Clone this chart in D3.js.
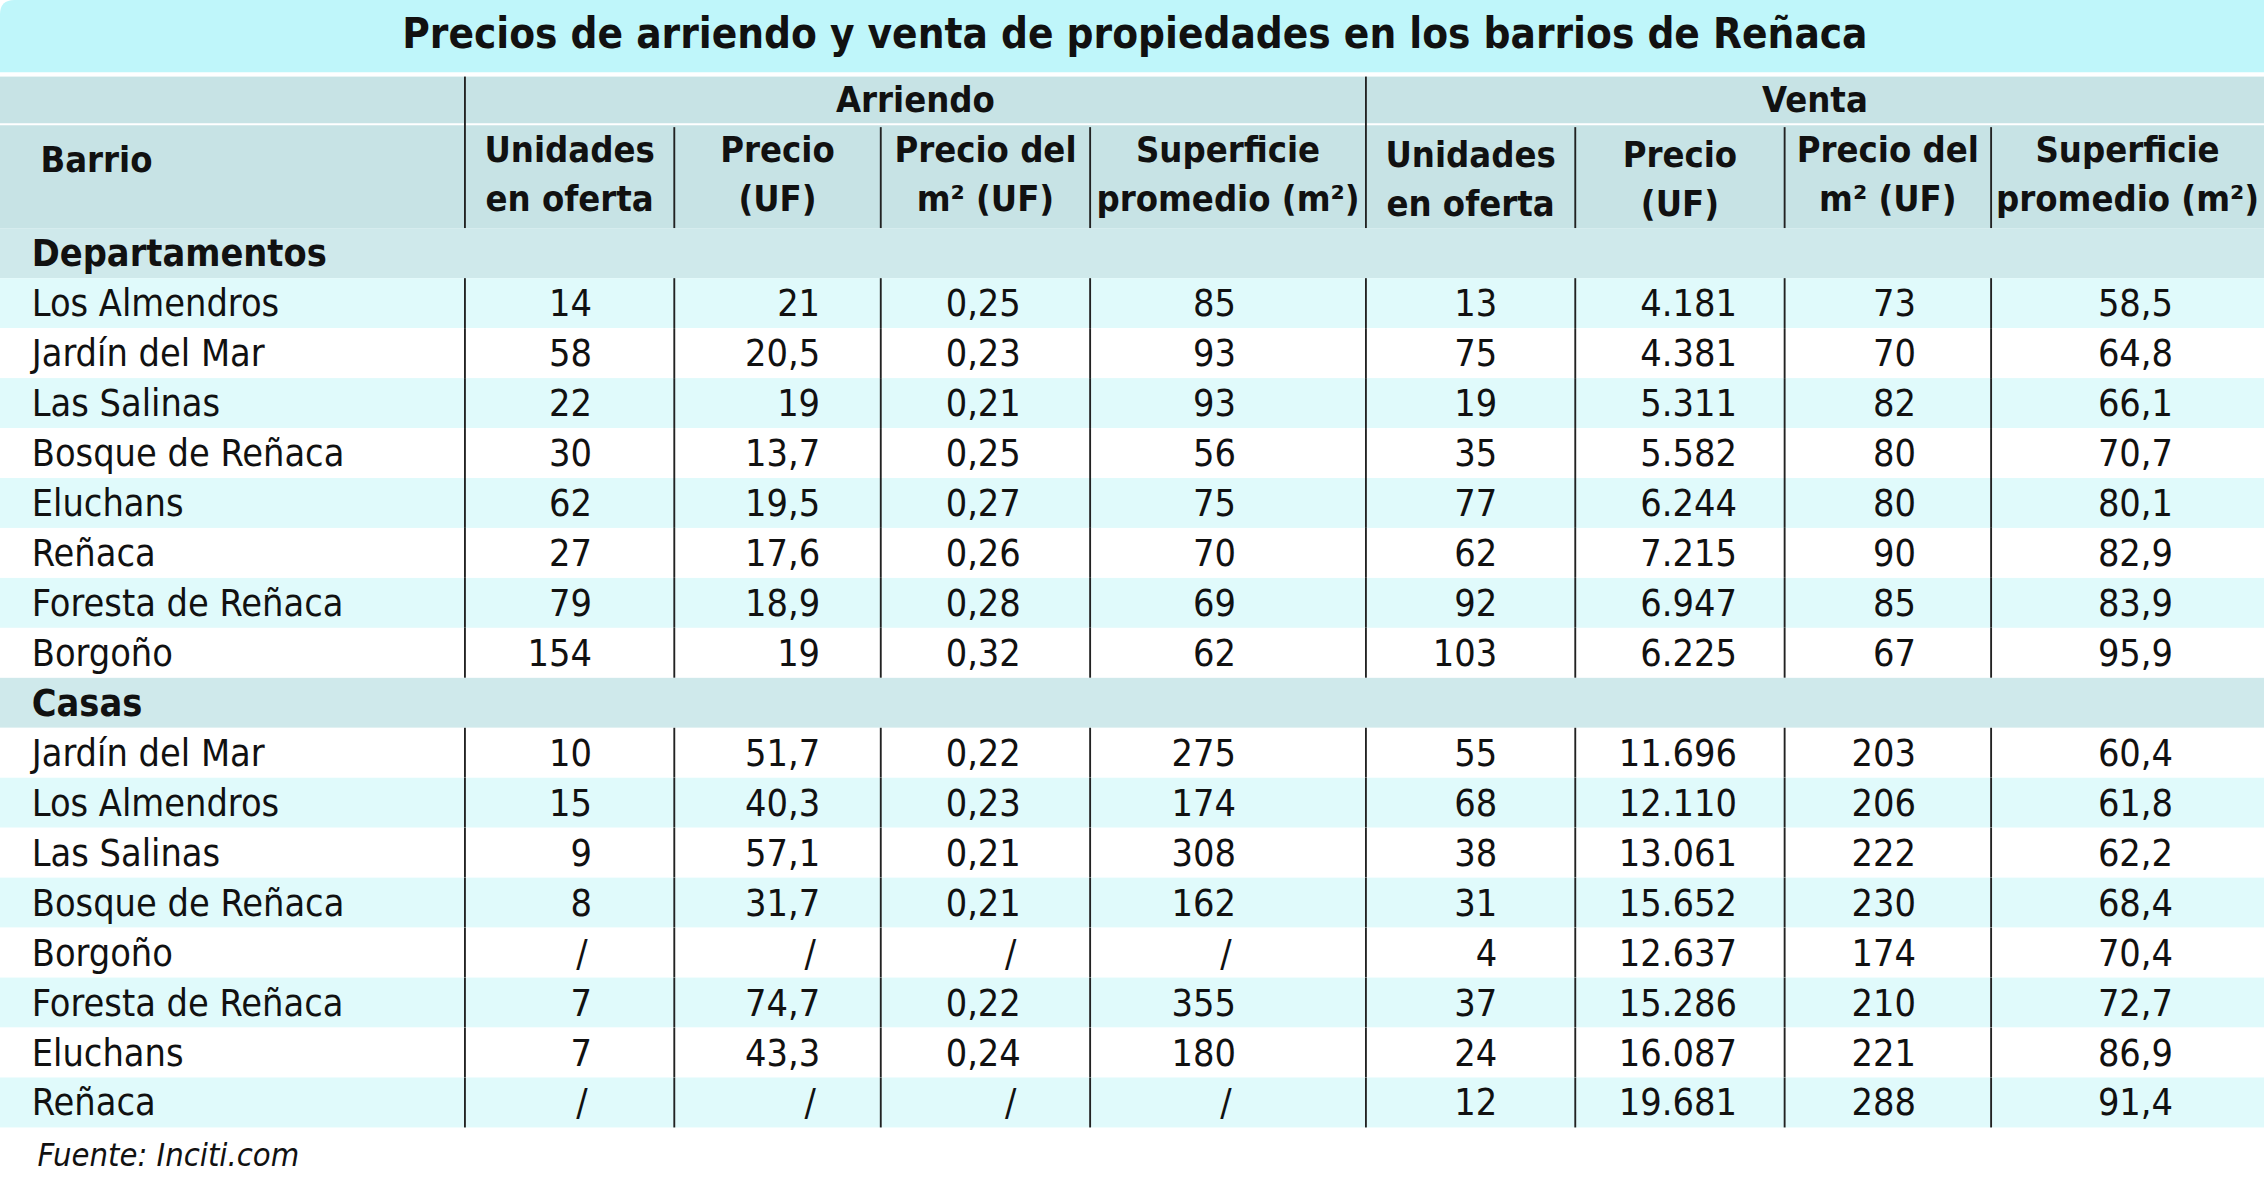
<!DOCTYPE html>
<html>
<head>
<meta charset="utf-8">
<script src="https://cdn.jsdelivr.net/npm/d3@7"></script>
<style>
  html, body { margin: 0; padding: 0; background: #ffffff; }
  svg { display: block; }
  text { font-family: "Liberation Sans Narrow", "DejaVu Sans Condensed", sans-serif; fill: #111; }
</style>
</head>
<body>
<script>
// table data
var title = "Precios de arriendo y venta de propiedades en los barrios de Reñaca";
var source = "Fuente: Inciti.com";
var groups = ["Arriendo", "Venta"];
var subHeaders = [["Unidades", "en oferta"], ["Precio", "(UF)"], ["Precio del", "m² (UF)"], ["Superficie", "promedio (m²)"]];
var sections = ["Departamentos", "Casas"];

var deptNames = ["Los Almendros", "Jardín del Mar", "Las Salinas", "Bosque de Reñaca", "Eluchans", "Reñaca", "Foresta de Reñaca", "Borgoño"];
var deptArrUnidades = [14, 58, 22, 30, 62, 27, 79, 154];
var deptArrPrecio = [21, 20.5, 19, 13.7, 19.5, 17.6, 18.9, 19];
var deptArrM2 = [0.25, 0.23, 0.21, 0.25, 0.27, 0.26, 0.28, 0.32];
var deptArrSup = [85, 93, 93, 56, 75, 70, 69, 62];
var deptVenUnidades = [13, 75, 19, 35, 77, 62, 92, 103];
var deptVenPrecio = [4181, 4381, 5311, 5582, 6244, 7215, 6947, 6225];
var deptVenM2 = [73, 70, 82, 80, 80, 90, 85, 67];
var deptVenSup = [58.5, 64.8, 66.1, 70.7, 80.1, 82.9, 83.9, 95.9];

var casasNames = ["Jardín del Mar", "Los Almendros", "Las Salinas", "Bosque de Reñaca", "Borgoño", "Foresta de Reñaca", "Eluchans", "Reñaca"];
var casasArrUnidades = [10, 15, 9, 8, null, 7, 7, null];
var casasArrPrecio = [51.7, 40.3, 57.1, 31.7, null, 74.7, 43.3, null];
var casasArrM2 = [0.22, 0.23, 0.21, 0.21, null, 0.22, 0.24, null];
var casasArrSup = [275, 174, 308, 162, null, 355, 180, null];
var casasVenUnidades = [55, 68, 38, 31, 4, 37, 24, 12];
var casasVenPrecio = [11696, 12110, 13061, 15652, 12637, 15286, 16087, 19681];
var casasVenM2 = [203, 206, 222, 230, 174, 210, 221, 288];
var casasVenSup = [60.4, 61.8, 62.2, 68.4, 70.4, 72.7, 86.9, 91.4];

// layout is drawn in a 1568 x 831 box and scaled up to the window
var svgWidth = 2264;
var svgHeight = 1200;
var vbWidth = 1568;
var vbHeight = 831;

var es = d3.formatLocale({ decimal: ",", thousands: ".", grouping: [3], currency: ["$", ""] });
var fmtThousands = es.format(",d");
function fmtDec(v) { return String(v).replace(".", ","); }

// column edges and where each cell's text ends
var colEdges = [0, 322, 467, 610, 755, 946, 1091, 1236, 1379, 1568];
var arrAnchor = [410, 568, 707, 856];
var venAnchor = [1037, 1203, 1327, 1505];

var titleH = 50;
var headTop = 53;
var headBottom = 158;
var groupLine = 86;

var svg = d3.select("body")
  .append("svg")
  .attr("width", svgWidth)
  .attr("height", svgHeight)
  .attr("viewBox", `0 0 ${vbWidth} ${vbHeight}`);

// build the rows: section label, then its barrios
// (stripes: first dept row is tinted, first casas row is white)
var rows = [];
function addSection(label, names, cols, stripe) {
  rows.push({ type: "section", label: label });
  names.forEach(function(n, i) {
    rows.push({ type: "data", label: n, cells: cols.map(c => c[i]), tinted: (i + stripe) % 2 === 0 });
  });
}
addSection(sections[0], deptNames,
  [deptArrUnidades, deptArrPrecio, deptArrM2, deptArrSup, deptVenUnidades, deptVenPrecio, deptVenM2, deptVenSup], 0);
addSection(sections[1], casasNames,
  [casasArrUnidades, casasArrPrecio, casasArrM2, casasArrSup, casasVenUnidades, casasVenPrecio, casasVenM2, casasVenSup], 1);

var yScale = d3.scaleBand()
  .domain(d3.range(rows.length))
  .range([headBottom, headBottom + 34.6 * rows.length]);

// title band
svg.append("path")
  .attr("d", `M0,${titleH} L0,10 Q0,0 10,0 L${vbWidth},0 L${vbWidth},${titleH} Z`)
  .attr("fill", "#bff6fa");

svg.append("text")
  .attr("x", 786)
  .attr("y", 33)
  .attr("text-anchor", "middle")
  .attr("font-size", 29)
  .attr("font-weight", "bold")
  .text(title);

// header band
svg.append("rect")
  .attr("x", 0).attr("y", headTop)
  .attr("width", vbWidth).attr("height", headBottom - headTop)
  .attr("fill", "#c7e3e5");

svg.append("line")
  .attr("x1", 0).attr("x2", vbWidth)
  .attr("y1", groupLine).attr("y2", groupLine)
  .attr("stroke", "#ffffff").attr("stroke-width", 1.5);

svg.append("text")
  .attr("x", 28).attr("y", 111)
  .attr("dominant-baseline", "central")
  .attr("font-size", 25).attr("font-weight", "bold")
  .text("Barrio");

groups.forEach(function(g, gi) {
  var x0 = colEdges[1 + gi * 4], x1 = colEdges[5 + gi * 4];
  svg.append("text")
    .attr("x", (x0 + x1) / 2).attr("y", 69)
    .attr("dominant-baseline", "central")
    .attr("text-anchor", "middle")
    .attr("font-size", 25).attr("font-weight", "bold")
    .text(g);

  subHeaders.forEach(function(lines, si) {
    var a = colEdges[1 + gi * 4 + si], b = colEdges[2 + gi * 4 + si];
    var dy = gi === 1 && si < 2 ? 3 : 0;
    lines.forEach(function(l, li) {
      svg.append("text")
        .attr("x", (a + b) / 2).attr("y", 104 + dy + li * 34)
        .attr("dominant-baseline", "central")
        .attr("text-anchor", "middle")
        .attr("font-size", 25).attr("font-weight", "bold")
        .text(l);
    });
  });
});

// header separators
[1, 5].forEach(function(c) {
  svg.append("line")
    .attr("x1", colEdges[c]).attr("x2", colEdges[c])
    .attr("y1", headTop).attr("y2", headBottom)
    .attr("stroke", "#222").attr("stroke-width", 1.3);
});
[2, 3, 4, 6, 7, 8].forEach(function(c) {
  svg.append("line")
    .attr("x1", colEdges[c]).attr("x2", colEdges[c])
    .attr("y1", groupLine + 2).attr("y2", headBottom)
    .attr("stroke", "#222").attr("stroke-width", 1.3);
});

// body rows
var rowG = svg.selectAll("g.row")
  .data(rows)
  .enter()
  .append("g")
  .attr("class", "row")
  .attr("transform", (d, i) => `translate(0, ${yScale(i)})`);

rowG.append("rect")
  .attr("width", vbWidth)
  .attr("height", yScale.bandwidth())
  .attr("fill", d => d.type === "section" ? "#cfe9eb" : (d.tinted ? "#e0fafb" : "#ffffff"));

rowG.append("text")
  .attr("x", 22)
  .attr("y", yScale.bandwidth() / 2)
  .attr("dominant-baseline", "central")
  .attr("font-size", 26)
  .attr("font-weight", d => d.type === "section" ? "bold" : "normal")
  .text(d => d.label);

var dataRows = rowG.filter(d => d.type === "data");

dataRows.selectAll("text.cell")
  .data(d => d.cells.map((v, ci) => ({ v: v, ci: ci })))
  .enter()
  .append("text")
  .attr("class", "cell")
  .attr("x", d => (d.ci < 4 ? arrAnchor[d.ci] : venAnchor[d.ci - 4]) - (d.v === null ? 3 : 0))
  .attr("y", yScale.bandwidth() / 2)
  .attr("dominant-baseline", "central")
  .attr("text-anchor", "end")
  .attr("font-size", 26)
  .text(function(d) {
    if (d.v === null) return "/";
    if (d.ci === 5) return fmtThousands(d.v);
    return fmtDec(d.v);
  });

dataRows.selectAll("line.sep")
  .data(colEdges.slice(1, 9))
  .enter()
  .append("line")
  .attr("class", "sep")
  .attr("x1", d => d).attr("x2", d => d)
  .attr("y1", 0).attr("y2", yScale.bandwidth())
  .attr("stroke", "#222").attr("stroke-width", 1.3);

// source
svg.append("text")
  .attr("x", 26)
  .attr("y", 800)
  .attr("dominant-baseline", "central")
  .attr("font-size", 22.5)
  .attr("font-style", "italic")
  .text(source);
</script>
</body>
</html>
